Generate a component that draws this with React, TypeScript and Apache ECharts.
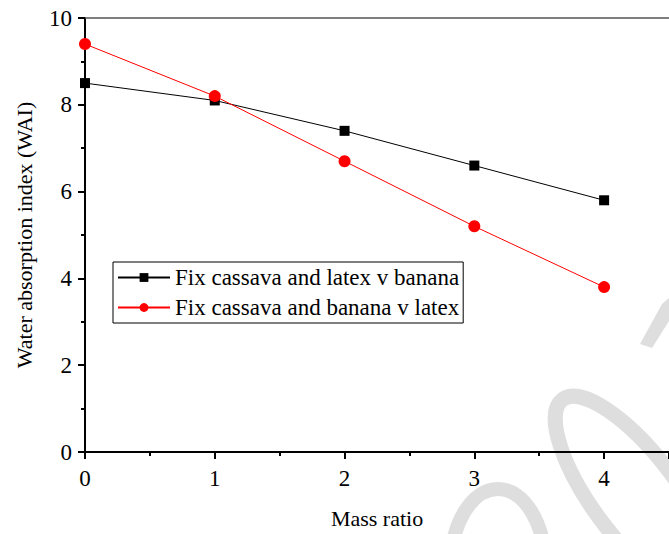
import React, { useEffect, useRef } from "react";
import * as echarts from "echarts";

const massRatio = [0, 1, 2, 3, 4];
const bananaSeries = [8.5, 8.1, 7.4, 6.6, 5.8];
const latexSeries = [9.4, 8.2, 6.7, 5.2, 3.8];
const seriesNames = ["Fix cassava and latex v banana", "Fix cassava and banana v latex"];
const xTitle = "Mass ratio";
const yTitle = "Water absorption index (WAI)";

const FONT = "Liberation Serif";
const WM = "#dedede";

export default function App() {
  const ref = useRef<HTMLDivElement>(null);
  useEffect(() => {
    if (!ref.current) return;
    const chart = echarts.init(ref.current, null, { renderer: "svg" });
    chart.setOption({
      animation: false,
      backgroundColor: "#fff",
      grid: { left: 85, top: 18, width: 593, height: 438, containLabel: false },
      graphic: [
        {
          type: "ellipse",
          x: 636,
          y: 497,
          rotation: -0.925,
          shape: { cx: 0, cy: 0, rx: 122, ry: 42 },
          style: { fill: "none", stroke: WM, lineWidth: 15 },
          z: -10,
        },
        {
          type: "ellipse",
          x: 498,
          y: 565,
          shape: { cx: 0, cy: 0, rx: 47, ry: 76 },
          style: { fill: "none", stroke: WM, lineWidth: 14 },
          z: -10,
        },
        {
          type: "polygon",
          shape: { points: [[640, 344], [652, 348], [669, 321], [669, 298], [662, 304]] },
          style: { fill: WM },
          z: -10,
        },
      ],
      legend: {
        orient: "vertical",
        left: 113,
        top: 262,
        padding: [4, 4, 4, 4],
        itemGap: 7,
        itemWidth: 52,
        itemHeight: 11,
        borderColor: "#000",
        borderWidth: 1,
        backgroundColor: "#fff",
        textStyle: { fontFamily: FONT, fontSize: 23, color: "#000" },
        data: seriesNames,
      },
      xAxis: [
        {
          type: "value",
          min: 0,
          max: 4.5,
          interval: 1,
          name: xTitle,
          nameLocation: "middle",
          nameGap: 55,
          nameTextStyle: { fontFamily: FONT, fontSize: 22, color: "#000" },
          axisLine: { show: true, onZero: false, lineStyle: { color: "#000", width: 2 } },
          axisTick: { show: true, inside: false, length: 7, lineStyle: { color: "#000", width: 2 } },
          minorTick: { show: true, splitNumber: 2, length: 4, lineStyle: { color: "#000", width: 2 } },
          axisLabel: { fontFamily: FONT, fontSize: 23, color: "#000", margin: 15, showMaxLabel: false },
          splitLine: { show: false },
        },
        {
          type: "value",
          position: "top",
          min: 0,
          max: 4.5,
          axisLine: { show: true, onZero: false, lineStyle: { color: "#555", width: 1.5 } },
          axisTick: { show: false },
          axisLabel: { show: false },
          splitLine: { show: false },
        },
      ],
      yAxis: {
        type: "value",
        min: 0,
        max: 10,
        interval: 2,
        name: yTitle,
        nameLocation: "middle",
        nameGap: 50,
        nameTextStyle: { fontFamily: FONT, fontSize: 22, color: "#000" },
        axisLine: { show: true, onZero: false, lineStyle: { color: "#000", width: 2 } },
        axisTick: { show: true, inside: false, length: 7, lineStyle: { color: "#000", width: 2 } },
        minorTick: { show: true, splitNumber: 2, length: 4, lineStyle: { color: "#000", width: 2 } },
        axisLabel: { fontFamily: FONT, fontSize: 23, color: "#000", margin: 13 },
        splitLine: { show: false },
      },
      series: [
        {
          name: seriesNames[0],
          type: "line",
          data: massRatio.map((x, i) => [x, bananaSeries[i]]),
          symbol: "rect",
          symbolSize: 10,
          itemStyle: { color: "#000" },
          lineStyle: { color: "#000", width: 1 },
          z: 3,
        },
        {
          name: seriesNames[1],
          type: "line",
          data: massRatio.map((x, i) => [x, latexSeries[i]]),
          symbol: "circle",
          symbolSize: 12,
          itemStyle: { color: "#ff0000" },
          lineStyle: { color: "#ff0000", width: 1 },
          z: 4,
        },
      ],
    });
    return () => chart.dispose();
  }, []);
  return <div ref={ref} style={{ width: 669, height: 534, position: "absolute", left: 0, top: 0 }} />;
}
